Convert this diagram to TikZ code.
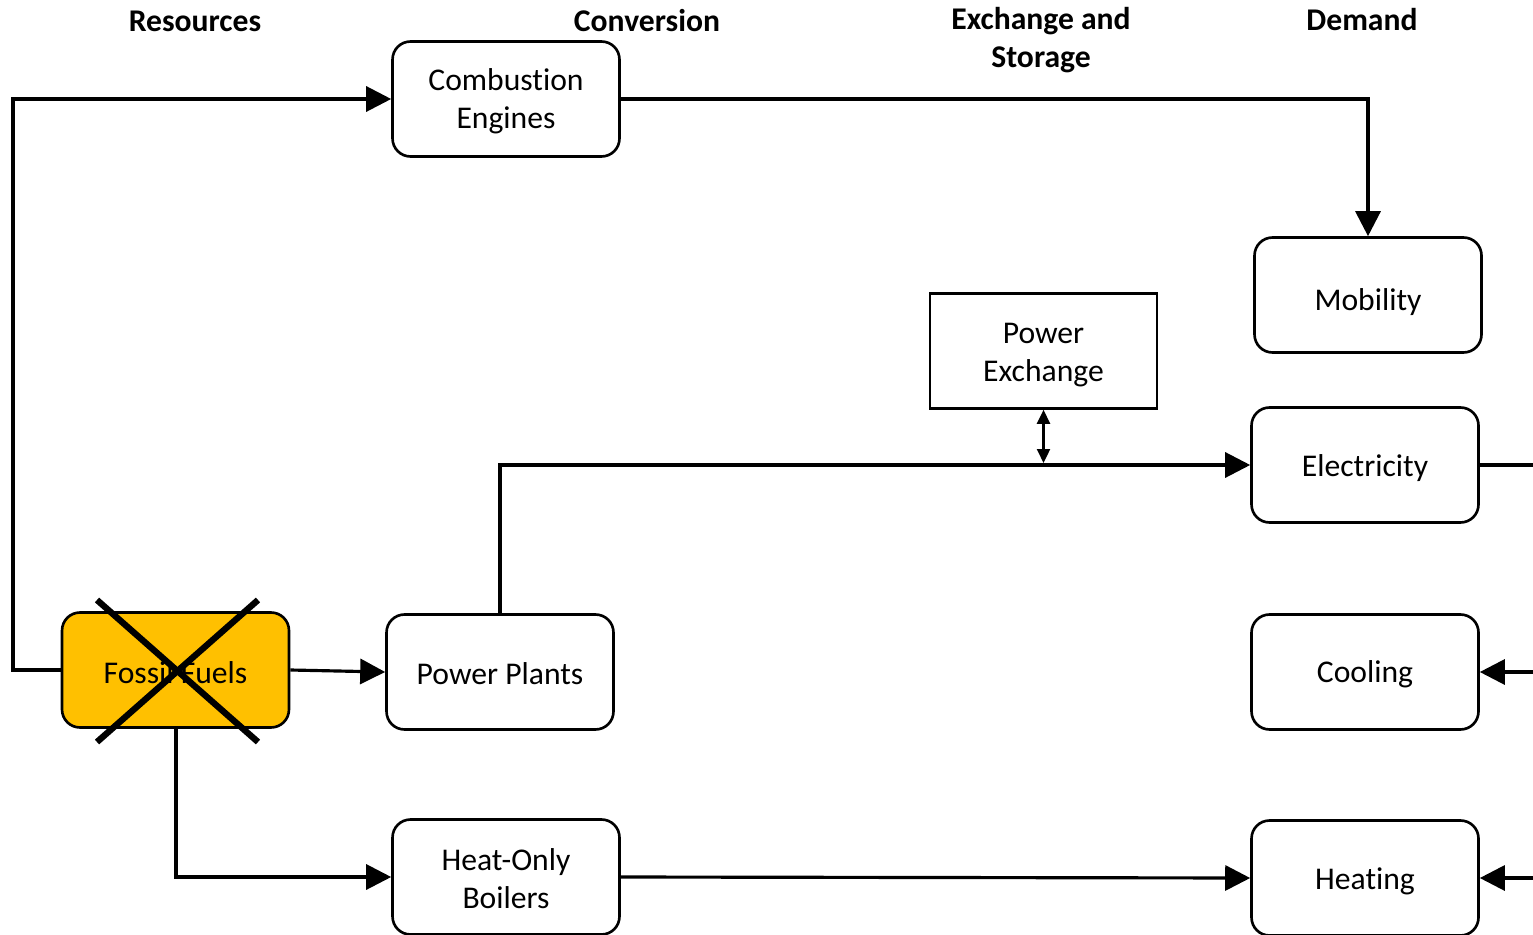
\documentclass[tikz,border=0pt]{standalone}
\usepackage{fontspec}
\setmainfont{Carlito}[Ligatures={NoCommon}]
\usetikzlibrary{arrows.meta}
\begin{document}
\begin{tikzpicture}[x=0.02cm,y=-0.02cm,
  box/.style={draw,line width=1.5pt,rounded corners=0.36cm,minimum width=4.54cm,minimum height=2.3cm,inner sep=0pt},
  sbox/.style={box,rounded corners=0pt},
  txt/.style={align=center,inner sep=0pt,font=\fontsize{18}{21.6}\selectfont},
  hdr/.style={align=center,font=\bfseries\fontsize{18}{21.6}\selectfont},
  conn/.style={line width=1.8pt},
  arr/.style={conn,-{Triangle[length=0.5cm,width=0.5cm]}},
  darr/.style={line width=1.3pt,{Triangle[length=0.28cm,width=0.26cm]}-{Triangle[length=0.28cm,width=0.26cm]}},
  cross/.style={line width=3.6pt}
]
\useasboundingbox (0,0) rectangle (1533,935);
% headers
\node[hdr] (hres) at (195,21) {Resources};
\node[hdr] (hconv) at (647,21) {Conversion};
\node[hdr] (hex) at (1041,40) {Exchange and\\Storage};
\node[hdr] (hdem) at (1362,20) {Demand};
% nodes
\node[box,label={[txt,yshift=-0.05cm]center:{Combustion\\Engines}}] (comb) at (506,99) {};
\node[box,label={[txt,yshift=-0.14cm]center:{Mobility}}] (mob) at (1368,295) {};
\node[sbox,label={[txt,yshift=-0.08cm]center:{Power\\Exchange}}] (pex) at (1043.5,351) {};
\node[box,label={[txt,yshift=-0.06cm]center:{Electricity}}] (elec) at (1365,465) {};
\node[box,fill={rgb,255:red,255;green,192;blue,0},label={[txt,yshift=-0.06cm]center:{Fossil Fuels}}] (fossil) at (175.5,670) {};
\node[box,label={[txt,yshift=-0.04cm]center:{Power Plants}}] (pp) at (500,672) {};
\node[box,label={[txt,yshift=-0.04cm]center:{Cooling}}] (cool) at (1365,672) {};
\node[box,label={[txt,yshift=-0.03cm]center:{Heat-Only\\Boilers}}] (hob) at (506,877) {};
\node[box,label={[txt,yshift=-0.06cm]center:{Heating}}] (heat) at (1365,878) {};
% cross
\draw[cross] (97,600) -- (258,742);
\draw[cross] (258,600) -- (97,742);
% coordinates
\coordinate (cl) at (13,670);
\coordinate (ctop) at (13,99);
\coordinate (cm) at (1368,99);
\coordinate (cpp) at (500,465);
\coordinate (cbus) at (1043.5,463);
\coordinate (ceo) at (1533,465);
\coordinate (cco) at (1533,672);
\coordinate (cho) at (1533,878);
\coordinate (cfd) at (176,877);
% connectors
\draw[arr] (fossil.west) -- (cl) -- (ctop) -- (comb.west);
\draw[arr] (comb.east) -- (cm) -- (mob.north);
\draw[arr] (fossil.east) -- (pp.west);
\draw[arr] (pp.north) -- (cpp) -- (elec.west);
\draw[darr] (pex.south) -- (cbus);
\draw[conn] (elec.east) -- (ceo);
\draw[arr] (cco) -- (cool.east);
\draw[arr] (cho) -- (heat.east);
\draw[arr] (fossil.south -| cfd) -- (cfd) -- (hob.west);
\draw[arr] (hob.east) -- (heat.west);
\end{tikzpicture}
\end{document}
